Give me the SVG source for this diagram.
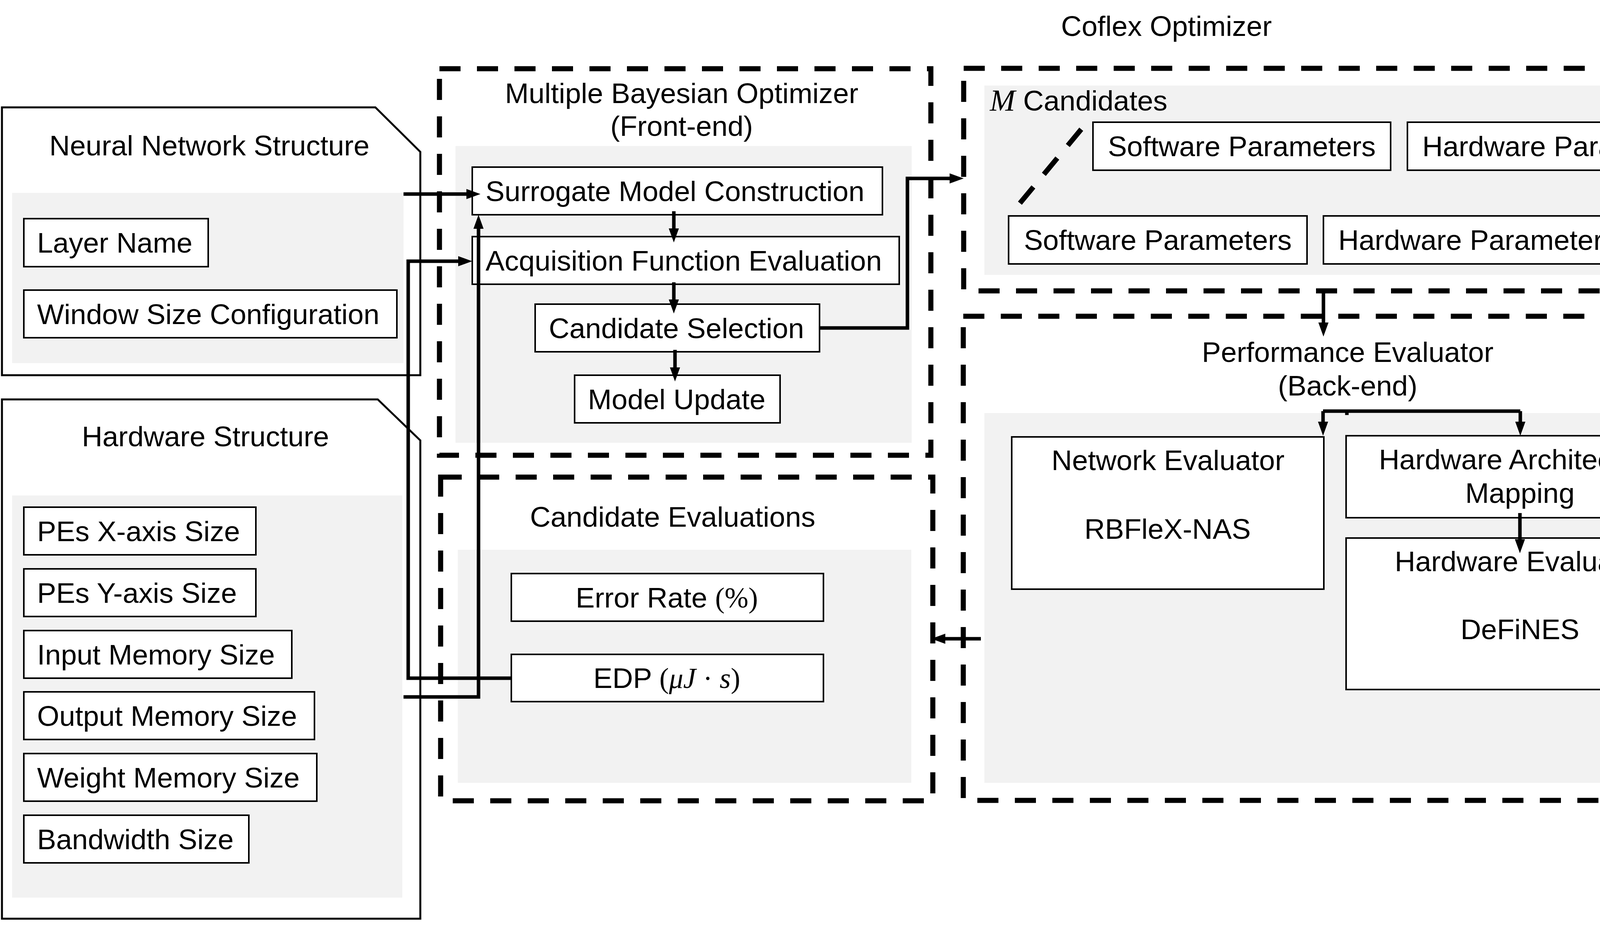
<svg xmlns="http://www.w3.org/2000/svg" width="5740" height="2405" viewBox="0 0 5740 2405">
<defs>
<style>
.box{fill:#fff;stroke:#000;stroke-width:4}
.grey{fill:#f2f2f2}
.cont{fill:#fff;stroke:#000;stroke-width:5}
.dash{fill:none;stroke:#000;stroke-width:13;stroke-dasharray:54 42}
.thick{fill:#fff;stroke:#000;stroke-width:12}
.conn{fill:none;stroke:#000;stroke-width:9;marker-end:url(#ah)}
.line{fill:none;stroke:#000;stroke-width:9}
text{font-family:"Liberation Sans",Arial,sans-serif;font-size:73px;fill:#000}
.m{text-anchor:middle}
.math{font-family:"Liberation Serif","Times New Roman",serif}
.it{font-family:"Liberation Serif","Times New Roman",serif;font-style:italic}
</style>
<marker id="ah" markerUnits="userSpaceOnUse" markerWidth="40" markerHeight="30" refX="6" refY="13" orient="auto">
<path d="M0,0 L36,13 L0,26 Z" fill="#000"/>
</marker>
</defs>
<rect width="5740" height="2405" fill="#fff"/>

<text id="title" class="m" x="2986" y="92">Coflex Optimizer</text>

<g id="nn-structure">
<path class="cont" d="M5,275 H961 L1076,389 V961 H5 Z"/>
<rect class="grey" x="31" y="494" width="1002" height="436"/>
<text class="m" x="536" y="398">Neural Network Structure</text>
<g id="layer-name"><rect class="box" x="61" y="560" width="472" height="123"/><text x="95" y="647">Layer Name</text></g>
<g id="window-size"><rect class="box" x="61" y="743" width="955" height="122"/><text x="95" y="830">Window Size Configuration</text></g>
</g>

<g id="hw-structure">
<path class="cont" d="M5,1023 H967 L1076,1128 V2353 H5 Z"/>
<rect class="grey" x="31" y="1269" width="999" height="1030"/>
<text class="m" x="526" y="1143">Hardware Structure</text>
<g id="pes-x"><rect class="box" x="61" y="1299" width="594" height="122"/><text x="95" y="1386">PEs X-axis Size</text></g>
<g id="pes-y"><rect class="box" x="61" y="1457" width="594" height="122"/><text x="95" y="1544">PEs Y-axis Size</text></g>
<g id="input-mem"><rect class="box" x="61" y="1615" width="686" height="122"/><text x="95" y="1702">Input Memory Size</text></g>
<g id="output-mem"><rect class="box" x="61" y="1772" width="744" height="122"/><text x="95" y="1859">Output Memory Size</text></g>
<g id="weight-mem"><rect class="box" x="61" y="1930" width="750" height="122"/><text x="95" y="2017">Weight Memory Size</text></g>
<g id="bandwidth"><rect class="box" x="61" y="2088" width="576" height="122"/><text x="95" y="2175">Bandwidth Size</text></g>
</g>

<g id="mbo">
<rect class="dash" x="1125" y="176" width="1258" height="990"/>
<rect class="grey" x="1166" y="374" width="1168" height="760"/>
<text class="m" x="1745" y="264">Multiple Bayesian Optimizer</text>
<text class="m" x="1745" y="348">(Front-end)</text>
<g id="surrogate"><rect class="box" x="1209" y="428" width="1050" height="122"/><text x="1243" y="515">Surrogate Model Construction</text></g>
<g id="acquisition"><rect class="box" x="1209" y="606" width="1093" height="122"/><text x="1243" y="693">Acquisition Function Evaluation</text></g>
<g id="cand-select"><rect class="box" x="1370" y="779" width="728" height="122"/><text x="1405" y="866">Candidate Selection</text></g>
<g id="model-update"><rect class="box" x="1471" y="961" width="526" height="122"/><text x="1505" y="1048">Model Update</text></g>
</g>

<g id="cand-eval">
<rect class="dash" x="1128" y="1222" width="1260" height="829"/>
<rect class="grey" x="1172" y="1408" width="1161" height="597"/>
<text class="m" x="1722" y="1349">Candidate Evaluations</text>
<g id="error-rate"><rect class="box" x="1309" y="1469" width="799" height="122"/><text class="m" x="1707" y="1556">Error Rate <tspan class="math">(%)</tspan></text></g>
<g id="edp"><rect class="box" x="1309" y="1676" width="799" height="121"/><text class="m" x="1707" y="1762">EDP <tspan class="math">(</tspan><tspan class="it">μJ</tspan><tspan class="math"> · </tspan><tspan class="it">s</tspan><tspan class="math">)</tspan></text></g>
</g>

<g id="candidates">
<rect class="dash" x="2467" y="175" width="1969" height="570"/>
<rect class="grey" x="2520" y="219" width="1873" height="485"/>
<text x="2534" y="283"><tspan class="it" font-size="78">M</tspan> Candidates</text>
<line class="dash" x1="2768" y1="331" x2="2608" y2="524" stroke-width="12"/>
<line class="dash" x1="4366" y1="452" x2="4205" y2="645" stroke-width="12"/>
<g id="sw1"><rect class="box" x="2798" y="313" width="762" height="123"/><text class="m" x="3179" y="400">Software Parameters</text></g>
<g id="hw1"><rect class="box" x="3603" y="313" width="790" height="123"/><text class="m" x="3998" y="400">Hardware Parameters</text></g>
<g id="sw2"><rect class="box" x="2582" y="553" width="764" height="123"/><text class="m" x="2964" y="640">Software Parameters</text></g>
<g id="hw2"><rect class="box" x="3388" y="553" width="791" height="123"/><text class="m" x="3783" y="640">Hardware Parameters</text></g>
</g>

<g id="perf-eval">
<rect class="dash" x="2466" y="810" width="1969" height="1240"/>
<rect class="grey" x="2520" y="1058" width="1852" height="947"/>
<text class="m" x="3450" y="927">Performance Evaluator</text>
<text class="m" x="3450" y="1013">(Back-end)</text>
<g id="net-eval"><rect class="box" x="2590" y="1119" width="799" height="390"/><text class="m" x="2990" y="1204">Network Evaluator</text><text class="m" x="2989" y="1380">RBFleX-NAS</text></g>
<g id="hw-map"><rect class="box" x="3446" y="1116" width="891" height="210"/><text class="m" x="3891" y="1202">Hardware Architecture</text><text class="m" x="3891" y="1288">Mapping</text></g>
<g id="hw-eval"><rect class="box" x="3446" y="1378" width="891" height="388"/><text class="m" x="3893" y="1463">Hardware Evaluator</text><text class="m" x="3891" y="1637">DeFiNES</text></g>
</g>

<g id="outputs">
<path class="cont" d="M4522,585 H5616 L5736,704 V2401 H4522 Z"/>
<rect class="grey" x="4555" y="860" width="1138" height="707"/>
<rect class="grey" x="4550" y="1567" width="1139" height="785"/>
<text class="m" x="5025" y="722">Optimizer Outputs</text>
<g id="opt-hyper"><rect class="thick" x="4595" y="864" width="911" height="113"/><text x="4629" y="945">Optimal Hyperparameters</text></g>
<g id="layer-size"><rect class="box" x="4621" y="1003" width="692" height="123"/><text x="4656" y="1090">Model Layer’s Size</text></g>
<g id="layer-dim"><rect class="box" x="4621" y="1155" width="898" height="121"/><text x="4656" y="1241">Model Layer’s Dimension</text></g>
<g id="hw-memory"><rect class="box" x="4621" y="1317" width="894" height="121"/><text x="4656" y="1403">Hardware‘s Memory Size</text></g>
<g id="opt-cand"><rect class="thick" x="4593" y="1596" width="1094" height="114"/><text x="4626" y="1679">Optimal Candidate’s Evaluation</text></g>
<g id="cycle"><rect class="box" x="4624" y="1740" width="470" height="122"/><text x="4660" y="1827">Cycle Count</text></g>
<g id="latency"><rect class="box" x="4621" y="1905" width="326" height="121"/><text x="4656" y="1991">Latency</text></g>
<g id="out-edp"><rect class="box" x="4624" y="2062" width="218" height="122"/><text x="4660" y="2149">EDP</text></g>
<g id="out-err"><rect class="box" x="4624" y="2210" width="409" height="122"/><text x="4660" y="2297">Error Rate</text></g>
</g>

<g id="connectors">
<path class="conn" d="M1033,497 H1200"/>
<path class="conn" d="M1033,1785 H1225 V580"/>
<path class="conn" d="M1309,1737 H1045 V669 H1179"/>
<path class="conn" d="M1725,541 V591"/>
<path class="conn" d="M1725,723 V773"/>
<path class="conn" d="M1728,896 V947"/>
<path class="conn" d="M2098,840 H2323 V457 H2437"/>
<path class="conn" d="M3388,745 V832"/>
<path class="line" d="M3387,1053 H3892 M3448,1053 V1063"/>
<path class="conn" d="M3387,1053 V1086"/>
<path class="conn" d="M3892,1053 V1086"/>
<path class="conn" d="M3891,1314 V1387"/>
<path class="conn" d="M4337,1220 H4525"/>
<path class="conn" d="M2511,1636 H2414"/>
</g>
</svg>
